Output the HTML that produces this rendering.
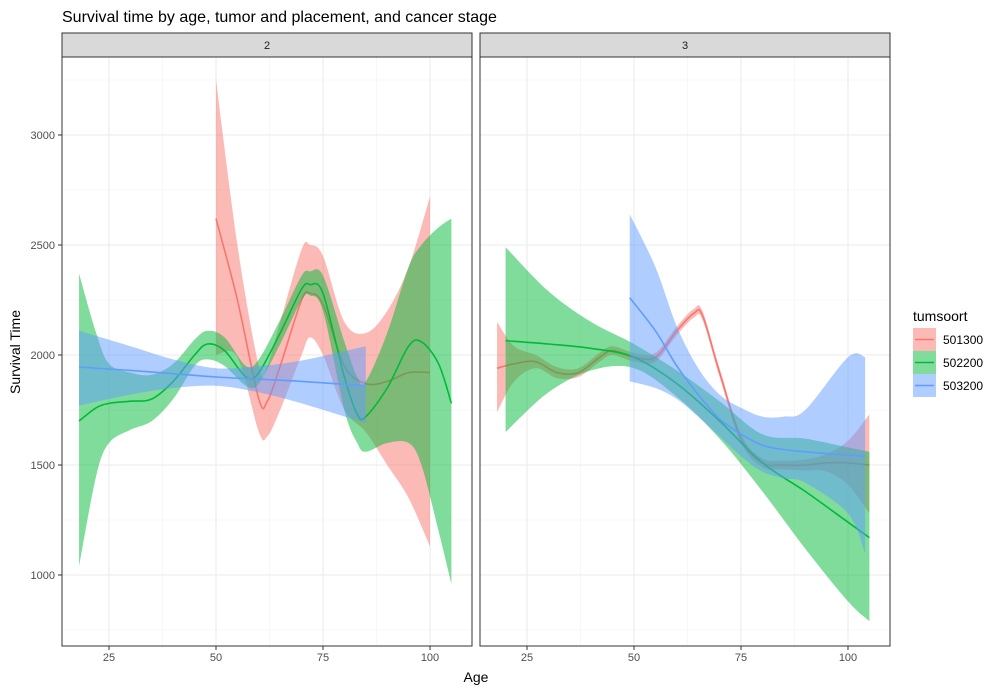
<!DOCTYPE html>
<html><head><meta charset="utf-8"><style>
body{margin:0;background:#fff;font-family:"Liberation Sans",sans-serif}
svg text{font-family:"Liberation Sans",sans-serif}
</style></head><body>
<svg id="c" width="1000" height="692" xmlns="http://www.w3.org/2000/svg">
<rect width="1000" height="692" fill="#fff"/>
<text x="62" y="22" font-size="16" fill="#000">Survival time by age, tumor and placement, and cancer stage</text>
<g id="panels"></g>
<text x="476" y="682" font-size="14" text-anchor="middle">Age</text>
<text transform="translate(20,352) rotate(-90)" font-size="14" text-anchor="middle">Survival Time</text>
<g id="legend">
<text x="913" y="321" font-size="14">tumsoort</text>
</g>
</svg>
<script>
const series = ["501300","502200","503200"];
const colors = ["#F8766D","#00BA38","#619CFF"];
const panelLabels = ["2","3"];
const xTicks = [25,50,75,100];
const yTicks = [1000,1500,2000,2500,3000];
// stage 2
const s2RedAge = [50,55,60,62,65,70,72,75,80,85,90,95,100];
const s2RedFit = [2620,2250,1800,1790,1950,2250,2280,2230,1950,1870,1880,1920,1920];
const s2RedLo = [2000,1990,1650,1630,1750,2000,2080,2000,1750,1650,1500,1350,1130];
const s2RedHi = [3250,2500,1950,1950,2150,2480,2500,2450,2150,2100,2200,2400,2720];
const s2GreenAge = [18,22,25,30,35,40,45,48,52,57,60,65,70,72,75,80,83,85,90,95,98,102,105];
const s2GreenFit = [1700,1760,1780,1790,1800,1880,2000,2050,2020,1900,1920,2100,2300,2320,2280,1900,1730,1720,1850,2040,2060,1960,1780];
const s2GreenLo = [1040,1450,1600,1660,1700,1800,1950,1980,1950,1860,1870,2050,2250,2270,2200,1750,1600,1560,1600,1600,1500,1200,960];
const s2GreenHi = [2370,2100,1960,1920,1910,1960,2070,2110,2080,1950,1980,2160,2360,2380,2360,2060,1900,1880,2100,2400,2500,2580,2620];
const s2BlueAge = [18,30,40,50,60,70,85];
const s2BlueFit = [1945,1930,1915,1900,1890,1880,1860];
const s2BlueLo = [1770,1820,1850,1860,1830,1780,1690];
const s2BlueHi = [2110,2040,1980,1940,1950,1975,2040];
// stage 3
const s3RedAge = [18,22,27,32,37,42,45,50,55,60,64,66,70,75,80,85,90,95,100,105];
const s3RedFit = [1940,1960,1970,1920,1920,1990,2020,1990,1990,2110,2190,2180,1920,1620,1510,1500,1500,1510,1510,1500];
const s3RedLo = [1740,1880,1940,1895,1900,1970,2000,1970,1970,2090,2170,2160,1900,1600,1490,1480,1475,1470,1410,1280];
const s3RedHi = [2150,2040,2000,1945,1940,2010,2040,2010,2010,2130,2210,2200,1940,1640,1530,1520,1525,1550,1610,1730];
const s3GreenAge = [20,30,40,50,60,70,80,90,100,105];
const s3GreenFit = [2065,2050,2030,1990,1870,1700,1510,1380,1240,1170];
const s3GreenLo = [1650,1830,1930,1940,1810,1620,1380,1120,880,790];
const s3GreenHi = [2490,2290,2150,2050,1930,1790,1640,1620,1580,1560];
const s3BlueAge = [49,55,60,65,70,75,80,85,90,100,104];
const s3BlueFit = [2260,2110,1950,1820,1710,1640,1590,1570,1560,1545,1540];
const s3BlueLo = [1880,1850,1800,1720,1630,1540,1470,1440,1420,1280,1100];
const s3BlueHi = [2640,2400,2130,1940,1820,1760,1720,1720,1750,1990,1990];

const panelData = [
 [[s2RedAge,s2RedFit,s2RedLo,s2RedHi],[s2GreenAge,s2GreenFit,s2GreenLo,s2GreenHi],[s2BlueAge,s2BlueFit,s2BlueLo,s2BlueHi]],
 [[s3RedAge,s3RedFit,s3RedLo,s3RedHi],[s3GreenAge,s3GreenFit,s3GreenLo,s3GreenHi],[s3BlueAge,s3BlueFit,s3BlueLo,s3BlueHi]]
];
const NS="http://www.w3.org/2000/svg";
function mk(tag,attrs,parent){const e=document.createElementNS(NS,tag);for(const k in attrs)e.setAttribute(k,attrs[k]);parent.appendChild(e);return e;}
const panelX=[62,480], pW=410, pTop=57, pBot=646;
function xs(p,a){return panelX[p]+47+(a-25)*4.28;}
function ys(v){return 355-(v-2000)*0.22;}
function spline(pts){
 let d="M"+pts[0][0]+","+pts[0][1];
 for(let i=0;i<pts.length-1;i++){
  const p0=pts[Math.max(0,i-1)],p1=pts[i],p2=pts[i+1],p3=pts[Math.min(pts.length-1,i+2)];
  const c1=[p1[0]+(p2[0]-p0[0])/6,p1[1]+(p2[1]-p0[1])/6],c2=[p2[0]-(p3[0]-p1[0])/6,p2[1]-(p3[1]-p1[1])/6];
  d+=` C${c1[0]},${c1[1]} ${c2[0]},${c2[1]} ${p2[0]},${p2[1]}`;
 }
 return d;
}
const root=document.getElementById("panels");
for(let p=0;p<2;p++){
 const g=mk("g",{},root);
 
 
 const x0=panelX[p];
 mk("rect",{x:x0,y:pTop,width:pW,height:pBot-pTop,fill:"#fff"},g);
 for(let v=750;v<=3250;v+=500){const y=ys(v);mk("line",{x1:x0,x2:x0+pW,y1:y,y2:y,stroke:"#f2f2f2","stroke-width":0.6},g);}
 for(let a=37.5;a<=87.5;a+=25){const x=xs(p,a);mk("line",{x1:x,x2:x,y1:pTop,y2:pBot,stroke:"#f2f2f2","stroke-width":0.6},g);}
 yTicks.forEach(v=>{const y=ys(v);mk("line",{x1:x0,x2:x0+pW,y1:y,y2:y,stroke:"#ebebeb","stroke-width":1.1},g);});
 xTicks.forEach(a=>{const x=xs(p,a);mk("line",{x1:x,x2:x,y1:pTop,y2:pBot,stroke:"#ebebeb","stroke-width":1.1},g);});
 panelData[p].forEach((s,k)=>{
  const [age,fit,lo,hi]=s;
  const up=age.map((a,i)=>[xs(p,a),ys(hi[i])]);
  const dn=age.map((a,i)=>[xs(p,a),ys(lo[i])]).reverse();
  const rib=mk("path",{d:spline(up)+" L"+spline(dn).slice(1)+" Z",fill:colors[k],"fill-opacity":0.5},g);
  
  
  const ln=mk("path",{d:spline(age.map((a,i)=>[xs(p,a),ys(fit[i])])),fill:"none",stroke:colors[k],"stroke-width":1.6},g);
  
  
 });
 mk("rect",{x:x0,y:pTop,width:pW,height:pBot-pTop,fill:"none",stroke:"#333","stroke-width":1},g);
 const st=mk("rect",{x:x0,y:33,width:pW,height:24,fill:"#d9d9d9",stroke:"#333","stroke-width":1},g);
 
 
 const sl=mk("text",{x:x0+pW/2,y:49,"font-size":11,"text-anchor":"middle",fill:"#1a1a1a"},g);sl.textContent=panelLabels[p];
 xTicks.forEach(a=>{const x=xs(p,a);mk("line",{x1:x,x2:x,y1:pBot,y2:pBot+4,stroke:"#333"},g);
  const t=mk("text",{x:x,y:pBot+15,"font-size":11,"text-anchor":"middle",fill:"#4d4d4d"},g);t.textContent=a;
  
  });
}
yTicks.forEach(v=>{const y=ys(v);mk("line",{x1:58,x2:62,y1:y,y2:y,stroke:"#333"},root);
 const t=mk("text",{x:55,y:y+4,"font-size":11,"text-anchor":"end",fill:"#4d4d4d"},root);t.textContent=v;
 
 });
const lg=document.getElementById("legend");
series.forEach((s,k)=>{
 const y=328+k*23;
 const e=mk("g",{},lg);
 
 
 mk("rect",{x:913,y:y,width:23,height:23,fill:colors[k],"fill-opacity":0.5},e);
 mk("line",{x1:915,x2:934,y1:y+11.5,y2:y+11.5,stroke:colors[k],"stroke-width":1.6},e);
 const t=mk("text",{x:943,y:y+16,"font-size":12},e);t.textContent=s;
});
</script>
</body></html>
